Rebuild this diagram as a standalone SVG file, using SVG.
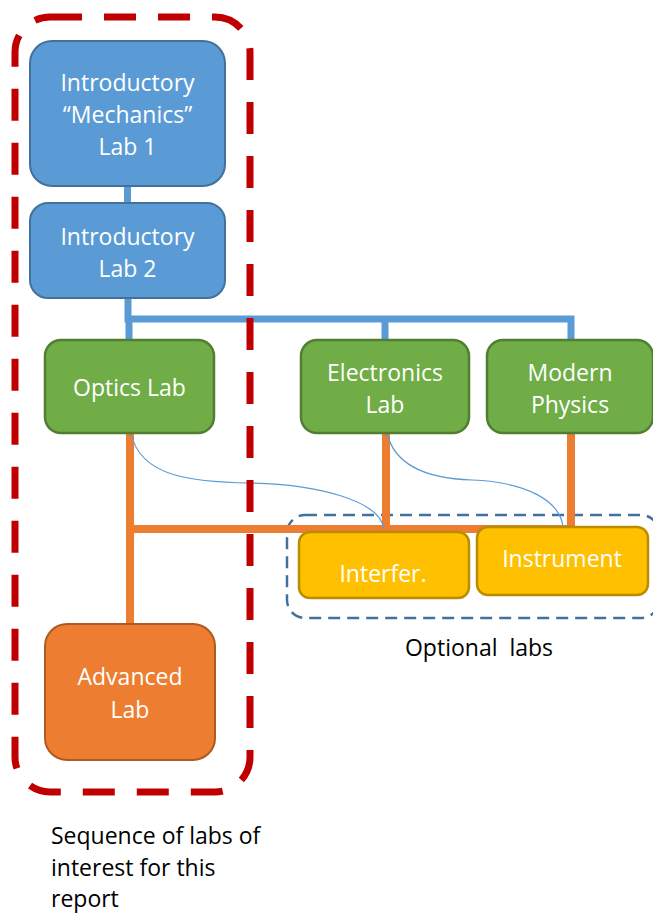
<svg xmlns="http://www.w3.org/2000/svg" width="653" height="914" viewBox="0 0 653 914">
<style>
.lbl{font-family:"Open Sans","Noto Sans","Liberation Sans",sans-serif;font-size:23px;fill:#fff;text-anchor:middle}
.cap{font-family:"Open Sans","Noto Sans","Liberation Sans",sans-serif;font-size:23px;fill:#000}
.blue{fill:#5B9BD5;stroke:#41719C;stroke-width:2}
.green{fill:#70AD47;stroke:#507E32;stroke-width:2.5}
.orange{fill:#ED7D31;stroke:#AE5A21;stroke-width:2}
.yellow{fill:#FFC000;stroke:#BC8C00;stroke-width:2.5}
.cb{stroke:#5B9BD5;stroke-width:7;fill:none}
.co{stroke:#ED7D31;stroke-width:8;fill:none}
.thin{stroke:#5B9BD5;stroke-width:1.2;fill:none}
</style>
<rect width="653" height="914" fill="#fff"/>
<g id="optional-group">
<rect x="287" y="515" width="372" height="103" rx="18" fill="none" stroke="#41719C" stroke-width="2.5" stroke-dasharray="12 7"/>
<text class="cap" x="479" y="656" text-anchor="middle" xml:space="preserve">Optional  labs</text>
</g>
<g id="connectors">
<path class="cb" d="M127.5,186 V203"/>
<path class="cb" d="M128,298 V319 M124.5,319 H571 V339 M385,319 V339 M129,319 V339"/>
<path class="co" d="M130,433 V623 M130,529 H575 M386,433 V529 M571,433 V529"/>
<path class="thin" d="M131,433 C140,478 195,482 250,483 C315,484 380,500 384,529"/>
<path class="thin" d="M387,433 C396,472 440,479 472,480 C525,482 560,500 563,527"/>
</g>
<g id="intro1">
<rect class="blue" x="30" y="41" width="195" height="145" rx="22"/>
<text class="lbl" x="127.5" y="91">Introductory</text>
<text class="lbl" x="127.5" y="123">“Mechanics”</text>
<text class="lbl" x="127.5" y="155">Lab 1</text>
</g>
<g id="intro2">
<rect class="blue" x="30" y="203" width="195" height="95" rx="18"/>
<text class="lbl" x="127.5" y="245">Introductory</text>
<text class="lbl" x="127.5" y="277">Lab 2</text>
</g>
<g id="optics">
<rect class="green" x="45" y="340" width="169" height="93" rx="16"/>
<text class="lbl" x="129.5" y="396">Optics Lab</text>
</g>
<g id="electronics">
<rect class="green" x="301" y="340" width="168" height="93" rx="16"/>
<text class="lbl" x="385" y="381">Electronics</text>
<text class="lbl" x="385" y="413">Lab</text>
</g>
<g id="modern">
<rect class="green" x="487" y="340" width="166" height="93" rx="16"/>
<text class="lbl" x="570" y="381">Modern</text>
<text class="lbl" x="570" y="413">Physics</text>
</g>
<g id="interfer">
<rect class="yellow" x="299" y="532" width="170" height="66" rx="11"/>
<text class="lbl" x="383" y="582">Interfer.</text>
</g>
<g id="instrument">
<rect class="yellow" x="477" y="527" width="171" height="68" rx="11"/>
<text class="lbl" x="562" y="567">Instrument</text>
</g>
<g id="advanced">
<rect class="orange" x="45" y="624" width="170" height="136" rx="22"/>
<text class="lbl" x="130" y="685">Advanced</text>
<text class="lbl" x="130" y="718">Lab</text>
</g>
<g id="interest-group">
<rect x="15" y="17" width="235" height="775" rx="35" fill="none" stroke="#C00000" stroke-width="7" stroke-dasharray="32 22"/>
<text class="cap" x="51" y="844">Sequence of labs of</text>
<text class="cap" x="51" y="876">interest for this</text>
<text class="cap" x="51" y="907">report</text>
</g>
</svg>
